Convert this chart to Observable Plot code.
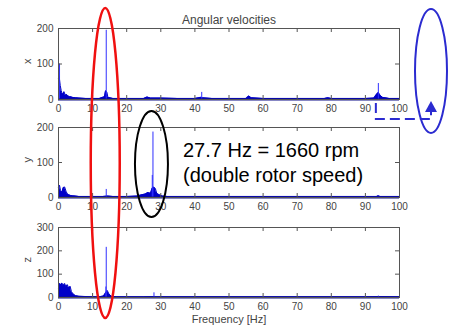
<!DOCTYPE html>
<html><head><meta charset="utf-8">
<script src="https://cdn.jsdelivr.net/npm/d3@7"></script>
<script src="https://cdn.jsdelivr.net/npm/@observablehq/plot@0.6"></script>
<style>
html,body{margin:0;padding:0;background:#fff;}
#wrap{position:relative;width:455px;height:328px;overflow:hidden;font-family:"Liberation Sans",Arial,sans-serif;}
#wrap > svg{position:absolute;left:0;}
</style></head><body><div id="wrap"></div>
<script>
// ---- data ----
const xTicks = [0,10,20,30,40,50,60,70,80,90,100];
const yTicksXY = [0,100,200];
const yTicksZ = [0,100,200,300];

// X component: broadband envelope (Hz, amplitude) and narrow spikes
const xEnvF = [0,0.2,0.5,0.8,1.0,1.3,1.6,2.0,2.4,2.8,3.2,3.6,4,5,6,8,10,12,13.5,13.8,14.2,14.5,16,20,25,26,27,30,35,40,41.8,42.2,45,50,55,55.8,56.5,60,70,78,79,80,85,90,92.5,93.3,93.8,94.3,95,97,100];
const xEnvA = [60,65,40,25,18,15,22,12,14,10,8,8,6,5,4,3,3,3,8,25,20,6,3,3,3,7,4,4,3,3,6,5,3,3,3,10,5,3,3,3,5,3,3,3,4,15,20,12,6,3,3];
const xSpikeF = [0.3,14,42,93.8];
const xSpikeA = [100,195,20,45];

// Y component
const yEnvF = [0,0.3,0.6,1.0,1.4,1.8,2.2,2.6,3,3.5,4,5,6,8,10,13,14.5,16,20,23,24.5,25.5,26.2,27,27.4,27.9,28.4,28.8,29.5,30.5,32,35,40,50,60,70,80,90,93.3,93.8,94.3,100];
const yEnvA = [30,35,20,15,28,30,18,10,8,6,5,4,3,3,3,3,4,3,3,4,8,10,14,12,25,30,26,12,8,4,3,3,3,3,3,3,3,3,3,5,3,3];
const ySpikeF = [14,27.5,27.7];
const ySpikeA = [23,63,187];

// Z component
const zEnvF = [0,0.3,0.7,1.0,1.4,1.8,2.2,2.6,3.0,3.4,3.8,4.3,5,6,8,10,12,13.2,13.6,14.3,14.8,15.5,17,20,25,27.8,28.2,30,40,50,60,70,80,90,93.8,100];
const zEnvA = [40,60,55,62,50,60,45,55,40,48,25,15,8,5,4,3,3,6,15,30,15,5,3,3,3,4,3,3,3,3,3,3,3,3,4,3];
const zSpikeF = [13.9,14,28,93.8];
const zSpikeA = [45,215,20,6];

const zip = (F, A) => F.map((f, i) => ({f, a: A[i]}));

const W = 455, ML = 58, MR = 56;
const wrap = document.getElementById("wrap");

function panel({top, height, mt, mb, yMax, yTicks, env, spikes, label, extra = []}) {
  const ph = height - mt - mb, pw = W - ML - MR;
  const chart = Plot.plot({
    width: W, height, marginLeft: ML, marginRight: MR, marginTop: mt, marginBottom: mb,
    style: {fontFamily: '"Liberation Sans", Arial, sans-serif', fontSize: "10px", color: "#444", background: "transparent", overflow: "visible"},
    x: {domain: [0, 100]},
    y: {domain: [0, yMax]},
    marks: [
      Plot.areaY(env, {x: "f", y: "a", fill: "#0000c8"}),
      Plot.lineY(env, {x: "f", y: "a", stroke: "#0000c8", strokeWidth: 1}),
      Plot.ruleX(spikes, {x: "f", y1: 0, y2: "a", stroke: "#3030ff", strokeWidth: 1}),
      Plot.ruleY([0], {stroke: "#10108a", strokeWidth: 2}),
      Plot.frame({stroke: "#555"}),
      Plot.ruleX(xTicks, {insetBottom: ph - 4, stroke: "#555"}),
      Plot.ruleX(xTicks, {insetTop: ph - 4, stroke: "#555"}),
      Plot.ruleY(yTicks, {insetRight: pw - 4, stroke: "#555"}),
      Plot.ruleY(yTicks, {insetLeft: pw - 4, stroke: "#555"}),
      Plot.axisX({ticks: xTicks, tickSize: 0, tickPadding: 5, label: null}),
      Plot.axisY({ticks: yTicks, tickSize: 0, tickPadding: 5, label: null}),
      Plot.text([label], {frameAnchor: "left", dx: -31, rotate: -90, text: d => d, fontSize: 11, fill: "#444"}),
      ...extra
    ]
  });
  chart.style.top = top + "px";
  wrap.appendChild(chart);
  return chart;
}

const c1 = panel({top: 0, height: 115, mt: 28, mb: 16, yMax: 200, yTicks: yTicksXY,
  env: zip(xEnvF, xEnvA), spikes: zip(xSpikeF, xSpikeA), label: "x",
  extra: [Plot.text(["Angular velocities"], {frameAnchor: "top", dy: -13, text: d => d, fontSize: 12, fill: "#444"})]});
panel({top: 110, height: 105, mt: 17, mb: 18, yMax: 200, yTicks: yTicksXY,
  env: zip(yEnvF, yEnvA), spikes: zip(ySpikeF, ySpikeA), label: "y"});
panel({top: 215, height: 113, mt: 12, mb: 31, yMax: 300, yTicks: yTicksZ,
  env: zip(zEnvF, zEnvA), spikes: zip(zSpikeF, zSpikeA), label: "z",
  extra: [Plot.text(["Frequency [Hz]"], {frameAnchor: "bottom", dy: 25, text: d => d, fontSize: 11, fill: "#444"})]});

// ---- annotations overlay ----
const sx = c1.scale("x");
const xp = v => sx.apply(v);
const svg = d3.select(wrap).append("svg")
  .attr("width", W).attr("height", 328)
  .style("position", "absolute").style("top", "0px").style("left", "0px")
  .style("overflow", "visible");
svg.append("ellipse").attr("cx", xp(14) - 0.5).attr("cy", 163).attr("rx", 14.5).attr("ry", 155)
  .attr("fill", "none").attr("stroke", "#f01010").attr("stroke-width", 2.5);
svg.append("ellipse").attr("cx", xp(27.7) - 1).attr("cy", 164).attr("rx", 16.5).attr("ry", 53)
  .attr("fill", "none").attr("stroke", "#000").attr("stroke-width", 2);
svg.append("ellipse").attr("cx", 431).attr("cy", 71).attr("rx", 16).attr("ry", 62)
  .attr("fill", "none").attr("stroke", "#2b2bd0").attr("stroke-width", 2);
const px = xp(93.8) - 2;
svg.append("path").attr("d", `M${px},103V119H431V112`)
  .attr("fill", "none").attr("stroke", "#2b2bd0").attr("stroke-width", 2).attr("stroke-dasharray", "10,5");
svg.append("path").attr("d", "M431,101L425,112L437,112Z").attr("fill", "#2b2bd0");
const t = svg.append("text").attr("font-family", '"Liberation Sans", Arial, sans-serif').attr("font-size", 20).attr("fill", "#000");
t.append("tspan").attr("x", 183).attr("y", 157).text("27.7 Hz = 1660 rpm");
t.append("tspan").attr("x", 183).attr("y", 182).text("(double rotor speed)");
</script></body></html>
